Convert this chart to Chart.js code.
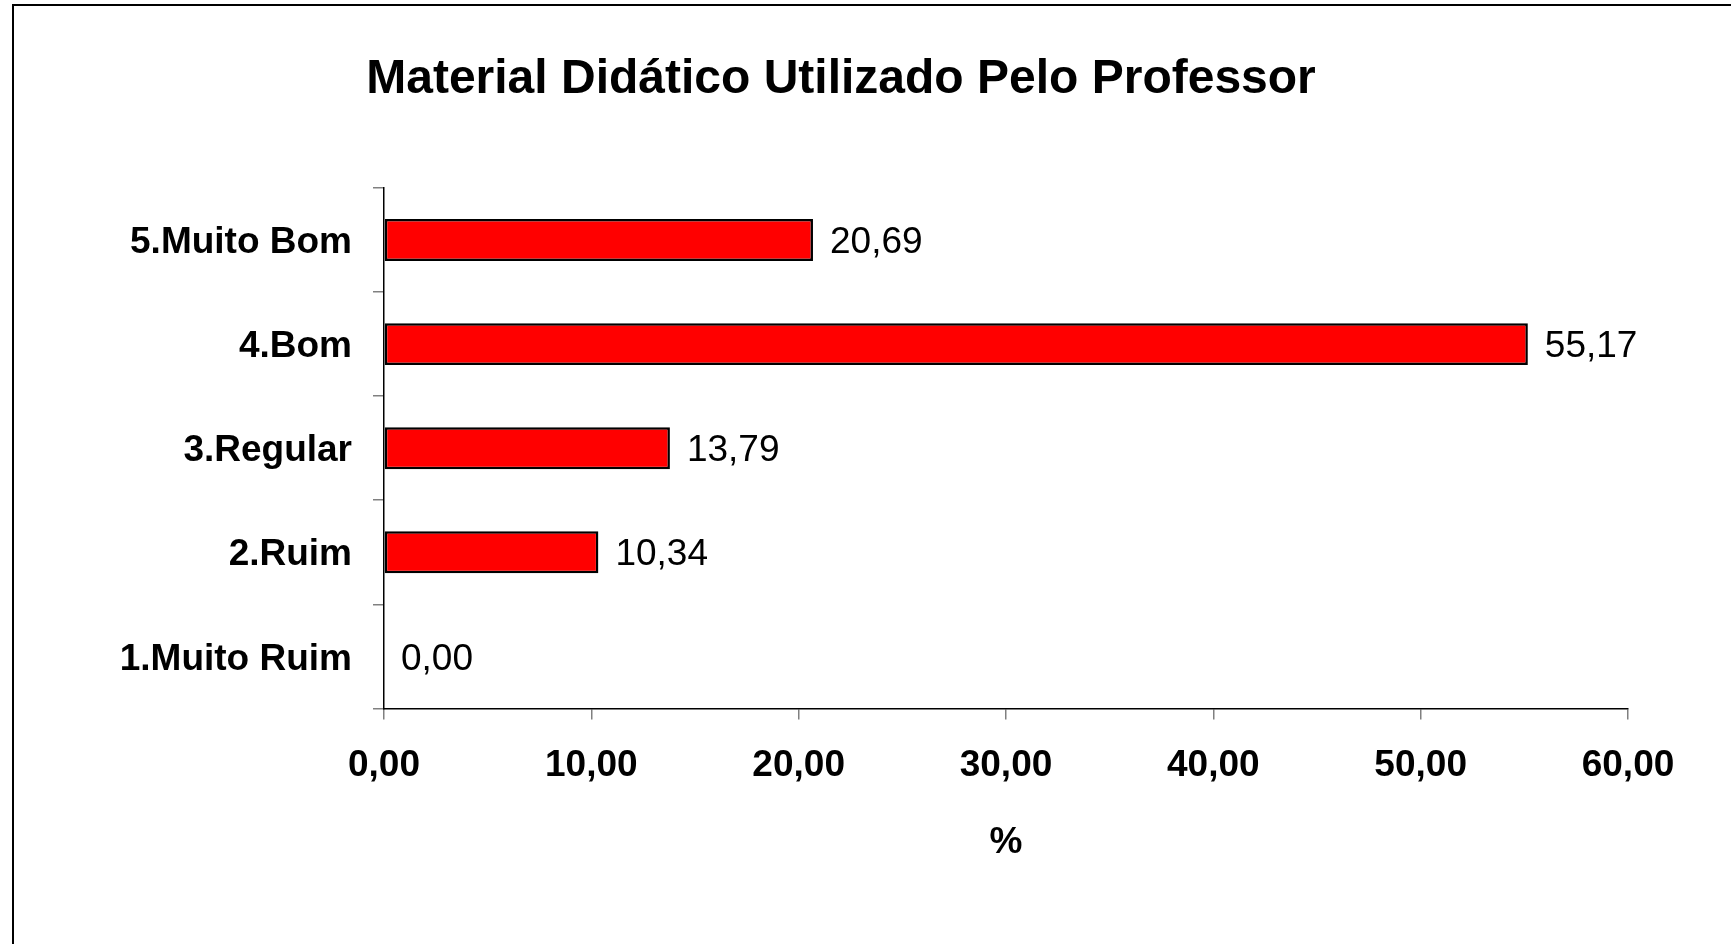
<!DOCTYPE html>
<html>
<head>
<meta charset="utf-8">
<script src="https://cdn.jsdelivr.net/npm/chart.js@4/dist/chart.umd.min.js"></script>
<style>
  html, body { margin: 0; padding: 0; background: #fff; overflow: hidden; }
  #wrap { position: relative; width: 1731px; height: 944px; }
  #frame {
    position: absolute; left: 12px; top: 4px; width: 1800px; height: 1000px;
    border-left: 2px solid #000; border-top: 2px solid #000;
    pointer-events: none;
  }
  canvas { position: absolute; left: 0; top: 0; }
</style>
</head>
<body>
<div id="wrap">
  <canvas id="chart" width="1731" height="944"></canvas>
  <div id="frame"></div>
</div>
<script>
// Chart data (top to bottom as shown)
const categories = ['5.Muito Bom', '4.Bom', '3.Regular', '2.Ruim', '1.Muito Ruim'];
const percentValues = [20.69, 55.17, 13.79, 10.34, 0.00];
const xTicks = [0, 10, 20, 30, 40, 50, 60];

const FONT = '"Liberation Sans", Arial, sans-serif';

function formatNum(v) {
    return v.toFixed(2).replace('.', ',');
}

// Draw the value next to the end of every bar
const valueLabels = {
    id: 'valueLabels',
    afterDatasetsDraw(chart) {
        const ctx = chart.ctx;
        const meta = chart.getDatasetMeta(0);
        ctx.save();
        ctx.font = '37px ' + FONT;
        ctx.fillStyle = '#000';
        ctx.textAlign = 'left';
        ctx.textBaseline = 'middle';
        meta.data.forEach((bar, i) => {
            ctx.fillText(formatNum(percentValues[i]), bar.x + 17, bar.y + 3);
        });
        ctx.restore();
    }
};

const ctx = document.getElementById('chart').getContext('2d');
new Chart(ctx, {
    type: 'bar',
    data: {
        labels: categories,
        datasets: [{
            data: percentValues,
            backgroundColor: '#ff0000',
            borderColor: '#000000',
            borderWidth: 2.5,
            borderSkipped: false,
            categoryPercentage: 1,
            barPercentage: 0.403
        }]
    },
    options: {
        indexAxis: 'y',
        responsive: false,
        animation: false,
        layout: {
            padding: { left: 54, right: 103, top: 0, bottom: 79.5 }
        },
        plugins: {
            legend: { display: false },
            tooltip: { enabled: false },
            title: {
                display: true,
                text: 'Material Didático Utilizado Pelo Professor',
                color: '#000',
                font: { family: FONT, size: 48, weight: 'bold' },
                padding: { top: 50.5, bottom: 79.9 }
            }
        },
        scales: {
            x: {
                min: 0,
                max: 60,
                afterBuildTicks: (axis) => {
                    axis.ticks = xTicks.map(v => ({ value: v }));
                },
                border: { display: true, color: '#000', width: 1.5 },
                grid: {
                    drawOnChartArea: false,
                    drawTicks: true,
                    tickLength: 11,
                    color: '#808080',
                    lineWidth: 1.5
                },
                ticks: {
                    padding: 24,
                    color: '#000',
                    font: { family: FONT, size: 37, weight: 'bold' },
                    callback: (v) => formatNum(v)
                },
                title: {
                    display: true,
                    text: '%',
                    color: '#000',
                    font: { family: FONT, size: 37, weight: 'bold' },
                    padding: { top: 8.3, bottom: 0 }
                }
            },
            y: {
                afterFit: (axis) => { axis.width = 330; },
                border: { display: true, color: '#000', width: 1.5 },
                grid: {
                    drawOnChartArea: false,
                    drawTicks: true,
                    tickLength: 11,
                    color: '#808080',
                    lineWidth: 1.5
                },
                ticks: {
                    padding: 21,
                    labelOffset: 3,
                    color: '#000',
                    font: { family: FONT, size: 37, weight: 'bold' }
                }
            }
        }
    },
    plugins: [valueLabels]
});
</script>
</body>
</html>
